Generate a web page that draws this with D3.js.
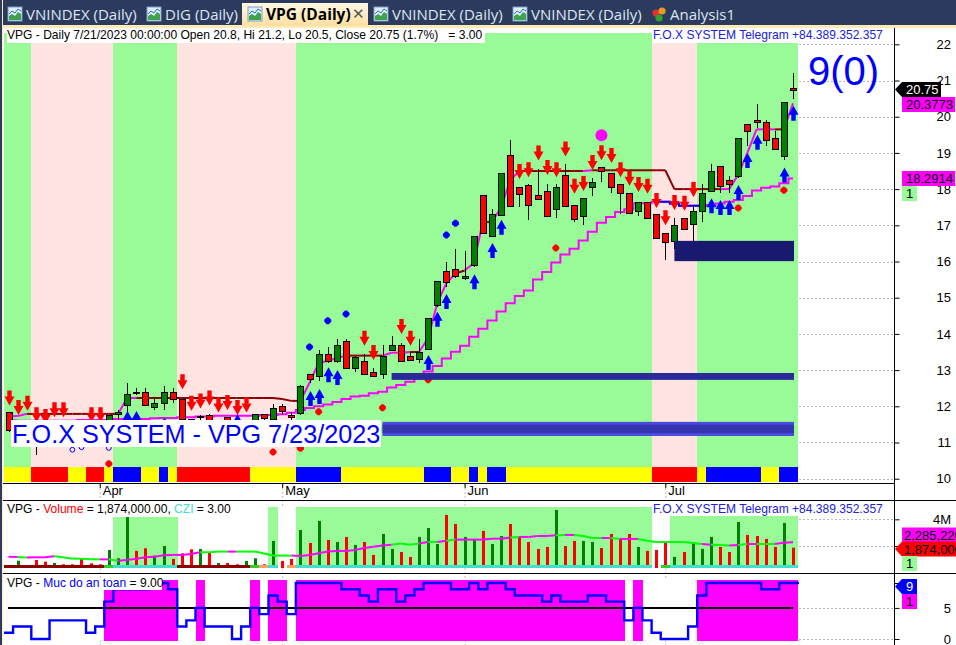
<!DOCTYPE html>
<html>
<head>
<meta charset="utf-8">
<title>VPG Daily</title>
<script src="https://cdn.jsdelivr.net/npm/d3@7"></script>
<style>
body { margin: 0; background: #fff; overflow: hidden; }
text { font-family: "Liberation Sans", Arial, sans-serif; }
.tab { font-family: "Open Sans", sans-serif; font-size: 15px; fill: #dde5f2; }
.axis text { font-size: 13px; fill: #000; }
.legend { font-size: 12.05px; fill: #000; white-space: pre; }
</style>
</head>
<body>
<svg id="chart" width="956" height="645"></svg>
<script>
//Price candles, one value per trading day (87 days ending 7/21/2023)
var opens = [11.85,11.25,11.55,11.5,11.4,11.2,11.35,11.3,11.3,11.3,
    11.3,11.3,11.8,12.05,12.4,12.4,12,12.1,12.4,12.2,
    11.65,11.7,11.75,11.4,11.7,11.5,11.4,11.5,11.8,11.65,
    12,11.75,11.8,12.9,12.85,13.45,13.25,13.8,13.05,13.25,
    12.95,12.9,13.55,13.7,13.4,13.3,13.6,14.8,15.75,15.8,
    15.55,15.9,17.85,16.7,17.3,18.95,18.05,18.1,17.85,17.95,
    17.45,18.4,17.55,17.25,18.05,18.6,18.45,18.15,17.9,17.4,
    17.65,17.3,16.8,16.55,17.2,17.05,17.4,17.95,18.65,18.25,
    18.35,19.8,19.9,19.85,19.4,18.9,20.8]
var closes = [11.35,11.55,11.4,11.2,11.2,11.35,11.25,11.2,11.15,11.15,
    11.2,11.75,11.85,12.35,12.4,12.05,12.1,12.4,12.2,11.65,
    11.3,11.72,11.4,11.55,11.4,11.45,11.5,11.8,11.7,11.95,
    11.85,11.7,12.55,12.75,13.45,13.25,13.7,13.05,13.35,12.9,
    12.85,13.4,13.7,13.25,13.3,13.5,14.45,15.45,15.45,15.6,
    15.6,16.7,16.8,17.3,18.45,17.55,17.85,17.55,17.75,17.25,
    18.05,17.55,17.15,17.75,18.2,18.5,18.05,17.9,17.35,17.65,
    17.2,16.65,16.55,17,16.9,17.4,17.9,18.5,18.1,18.15,
    19.4,19.6,19.85,19.35,19.1,20.4,20.75]
var highs = [11.85,11.6,11.6,11.6,11.5,11.45,11.45,11.4,11.4,11.4,
    11.5,11.75,11.9,12.65,12.5,12.5,12.25,12.55,12.5,12.2,
    11.65,11.75,11.8,11.6,11.7,11.6,11.6,11.8,11.8,12.05,
    12.05,11.85,12.6,12.9,13.55,13.65,13.85,13.85,13.4,13.45,
    13.05,13.7,13.95,13.75,13.5,13.85,14.45,15.45,16,16.35,
    16.3,16.7,17.85,17.45,18.45,19.35,18.05,18.15,18.55,18.15,
    18.15,18.7,17.55,17.75,18.3,18.6,18.45,18.15,17.9,17.65,
    17.65,17.3,16.8,17.2,17.2,17.55,18.15,18.7,18.65,18.35,
    19.4,19.8,20.35,19.9,19.6,20.4,21.2]
var lows = [11.3,11.2,11.3,10.65,11.1,11.1,11.15,11.1,11.1,11.1,
    11.1,11.25,11.6,11.8,12.3,12.05,11.9,11.9,12.1,11.6,
    11.2,11.4,11.3,11.3,11.3,11.4,11.35,11.4,11.6,11.6,
    11.75,11.6,11.75,12.65,12.7,13.2,13.2,13.05,12.95,12.9,
    12.8,12.75,13.55,13.25,13.25,13.2,13.6,14.75,15.3,15.55,
    15.5,15.85,16.8,16.7,17.3,17.55,17.5,17.15,17.7,17.25,
    17.2,17.55,17.1,17,17.8,18.2,17.9,17.3,17.35,17.25,
    17.2,16.65,16.05,16.35,16.9,16.5,17.1,17.95,17.9,17.9,
    18.3,19.2,19.7,19.2,19.1,18.8,20.5]

//Fast trailing line and slow stepped line
var fastLine = [11.73,11.73,11.79,11.79,11.79,11.79,11.79,11.79,11.79,11.79,
    11.79,11.79,11.79,12.23,12.23,12.23,12.23,12.23,12.23,12.23,
    12.23,12.23,12.23,12.23,12.23,12.23,12.23,12.23,12.23,12.23,
    12.2,12.15,12.15,12.65,13.2,13.25,13.33,13.4,13.4,13.4,
    13.4,13.4,13.48,13.48,13.5,13.5,13.88,14.85,15.4,15.67,
    15.75,15.95,17.09,17.09,17.5,18.25,18.5,18.5,18.5,18.5,
    18.5,18.5,18.5,18.5,18.52,18.52,18.52,18.52,18.52,18.52,
    18.52,18.52,18.52,18,18,18,18,18,18,18,
    18.4,19,19.65,19.65,19.65,19.65,20.37]
var fastRedRanges = [[2,12],[14,32],[37,41],[44,45],[49,50],[52,53],[56,63],[64,78],[84,85]]
var slowLine = [11.6,11.6,11.6,11.6,11.6,11.6,11.6,11.6,11.62,11.62,
    11.62,11.62,11.65,11.65,11.65,11.65,11.67,11.68,11.68,11.7,
    11.7,11.72,11.72,11.74,11.74,11.74,11.74,11.74,11.76,11.76,
    11.78,11.82,11.9,11.95,12,12.05,12.12,12.2,12.27,12.29,
    12.36,12.4,12.52,12.59,12.68,12.77,12.96,13.11,13.32,13.51,
    13.67,13.92,14.14,14.37,14.62,14.85,15.05,15.2,15.5,15.71,
    15.97,16.19,16.35,16.58,16.82,17.07,17.23,17.37,17.44,17.61,
    17.61,17.65,17.65,17.6,17.54,17.54,17.54,17.56,17.6,17.65,
    17.7,17.81,17.96,18.04,18.07,18.16,18.29]
var slowBlueRanges = [[0,1],[71,76]]

//Signals: [bar, price at the tip]
var redArrows = [[0,12.02],[1,11.76],[2,11.88],[3,11.56],[4,11.51],[5,11.7],[6,11.7],[9,11.56],[10,11.56],
    [19,12.47],[20,11.88],[21,11.94],[22,12.02],[23,11.83],[24,11.9],[25,11.76],[26,11.83],
    [39,13.67],[40,13.28],[43,14],[44,13.67],
    [56,18.28],[57,18.33],[58,18.79],[59,18.39],[60,18.33],[61,18.9],[62,17.87],[63,17.95],[64,18.53],
    [65,18.8],[66,18.72],[67,18.33],[68,18.09],[69,17.92],[70,17.87],[71,17.48],[72,17],[73,17.42],[74,17.4],[75,17.78]]
var blueArrows = [[13,11.87],[14,11.87],[17,11.7],[25,11.79],[33,12.42],[34,12.48],[35,13.08],[36,13],
    [46,13.42],[47,14.61],[48,15.1],[51,15.65],[53,16.51],[54,17.15],
    [77,17.75],[78,17.7],[79,17.7],[80,18.11],[81,19],[82,19.5],[85,18.6],[86,20.3]]
var blueDots = [[33,13.64],[35,14.36],[37,14.55],[48,16.73],[49,17.06]]
var hollowDots = [[7,10.8],[8,10.87],[11,10.85]]
var redDots = [[11,10.41],[29,10.74],[32,10.84],[34,11.85],[41,11.96],[46,12.73],[60,16.37],[80,17.48],[85,17.97]]
var bigDot = [65,19.49]

//Zones: [first bar, top price, bottom price]
var navyZone = [73,16.57,16.01]
var upperBlueZone = [42,12.92,12.73]
var lowerBlueZone = [41,11.57,11.18]
var lowerBlueCore = [41,11.49,11.26]

//Bottom strip of the price pane and background, as [colour key, number of bars]
var stripRuns = [["Y",3],["R",4],["Y",2],["R",2],["Y",1],["B",3],["Y",2],["B",1],["Y",1],["R",8],["Y",5],
    ["B",5],["Y",9],["B",3],["Y",2],["B",1],["Y",1],["B",2],["Y",16],["R",5],["Y",1],["B",6],["Y",2],["B",2]]
var bandRuns = [["G",3],["P",9],["G",7],["P",13],["G",39],["P",5],["G",11]]

//Volume in millions
var volumes = [0.4,0.9,0.4,0.95,0.83,0.73,0.63,0.63,1.03,0.7,
    0.63,1.7,1.08,4.18,1.63,1.83,1.28,2,1.03,1.45,
    1.75,1.78,1.53,0.73,0.73,0.63,0.88,1.08,0.63,2.38,
    0.88,1.03,3.2,2.23,3.88,2.45,2.3,2.68,2.08,2.3,
    1.33,2.9,1.78,1.55,1.18,2.68,3.35,2.15,4.33,3.65,
    2.68,2.53,3.13,2.15,2.75,3.65,2.75,2.3,1.78,1.93,
    4.7,2,2.38,2.38,2.3,1.85,2.9,2.53,2.9,1.93,
    1.63,1.7,2.23,1.18,1.55,2.3,1.78,2.68,1.93,1.55,
    3.8,2.83,2.75,2.53,1.93,3.73,1.874]
var volumeAvg = [1.2,1.18,1.13,1.15,1.15,1.23,1.15,1.05,1.05,1,
    1,1,0.9,0.95,1.05,1.15,1.2,1.3,1.33,1.33,
    1.4,1.53,1.53,1.58,1.58,1.58,1.58,1.58,1.43,1.28,
    1.28,1.28,1.25,1.33,1.45,1.58,1.63,1.63,1.7,1.85,
    1.95,2.03,2.1,2.18,2.1,2.18,2.3,2.3,2.4,2.48,
    2.48,2.48,2.48,2.55,2.55,2.63,2.68,2.68,2.75,2.75,
    2.8,2.83,2.83,2.75,2.6,2.6,2.6,2.53,2.53,2.53,
    2.4,2.3,2.3,2.3,2.3,2.23,2.15,2.1,2.08,2.03,
    2.08,2.15,2.15,2.15,2.15,2.25,2.285]
var volumeAvgColours = "mgmmmgggggmgmmmmmmmmmgggmggggggmmmmmmmmmmmgggmgmgmmmmmmgmmmmgmgggmgmmgggggggmggmgmggmm"
var cziRuns = [["D",11],["L",1],["T",7],["D",8],["L",1],["O",1],["T",1],["N",1],["O",1],["T",39],["N",1],["L",1],["T",14]]

//Safety level, 0 to 9
var safety = [1,2,2,0,0,3,3,3,3,1,
    2,6,8,8,8,8,9,9,8,2,
    3,5,2,2,2,0,2,5,4,7,
    6,4,9,9,9,9,9,8,8,7,
    6,8,8,6,7,8,9,9,9,8,
    8,9,8,9,9,8,7,7,7,6,
    7,6,6,6,7,7,6,6,3,5,
    3,1,0,0,0,2,7,9,9,9,
    9,9,9,8,8,9,9]

var priceTicks = [10,11,12,13,14,15,16,17,18,19,20,21,22]
var volumeTicks = [2,4]
var safetyTicks = [0,5,9]
var monthTicks = [[10,"Apr"],[30,"May"],[50,"Jun"],[72,"Jul"]]
var tabs = [["VNINDEX (Daily)",8],["DIG (Daily)",147],["VPG (Daily)",248],["VNINDEX (Daily)",374],["VNINDEX (Daily)",513]]

var colours = {Y:"#ffff00", R:"#ff0000", B:"#0000ff", G:"#98fb98", P:"#ffe4e1",
    D:"#8b0000", L:"#32cd32", T:"#40e0d0", O:"#ffa060"}

var svg = d3.select("#chart")

var x = d3.scaleLinear().domain([0,86]).range([8.5,793])
var step = x(1) - x(0)
var priceY = d3.scaleLinear().domain([10,22]).range([478.7,44.3])
var volumeY = d3.scaleLinear().domain([0,4]).range([572.67,519.33])
var safetyY = d3.scaleLinear().domain([0,9]).range([639,583])

//Left and right edge of a run of bars, the first edge stops at the pane border
function barLeft(i) { return Math.max(4, x(i) - step/2) }
function barRight(i) { return Math.min(799, x(i) + step/2) }

function expandRuns(runs) {
    var out = []
    runs.forEach(function(r) {
        for (var k = 0; k < r[1]; k++) out.push(r[0])
    })
    return out
}

function inRanges(ranges, i) {
    return ranges.some(function(r) { return i >= r[0] && i < r[1] })
}

function tabBar() {
    svg.append("rect").attr("width",956).attr("height",25).attr("fill","#2c3b5d")
    svg.append("rect").attr("y",25).attr("width",956).attr("height",3).attr("fill","#ffeab8")
    svg.append("rect").attr("width",2).attr("height",645).attr("fill","#2c3b5d")
    svg.append("rect").attr("x",2).attr("width",1).attr("height",645).attr("fill","#ffeab8")

    var grad = svg.append("defs").append("linearGradient").attr("id","activeTab")
        .attr("x1",0).attr("y1",0).attr("x2",0).attr("y2",1)
    grad.append("stop").attr("offset",0).attr("stop-color","#fff8e6")
    grad.append("stop").attr("offset",1).attr("stop-color","#ffdf9f")
    svg.append("rect").attr("x",242).attr("y",3).attr("width",126).attr("height",23).attr("fill","url(#activeTab)")

    tabs.forEach(function(t, i) {
        var g = svg.append("g").attr("transform","translate(" + t[1] + ",7)")
        g.append("rect").attr("width",14).attr("height",14).attr("fill","#dfeefc").attr("stroke","#7d9cc4")
        g.append("path").attr("d","M1,13V9L4,7L7,9L10,5L13,7V13Z").attr("fill","#3fa34d")
        g.append("path").attr("d","M1,7L4,4L7,6L10,2L13,4").attr("fill","none").attr("stroke","#2a6fc0")
        svg.append("text").attr("class","tab").attr("x",t[1] + 18).attr("y",20).text(t[0])
            .style("fill", i == 2 ? "#000" : null).style("font-weight", i == 2 ? "bold" : null)
            .style("font-size", i == 2 ? "15.5px" : null)
    })
    svg.append("text").attr("x",352).attr("y",19).attr("font-size",15).attr("fill","#555").text("✕")

    var colourDots = [[656,13,"#e03030"],[662,11,"#e89a20"],[659,18,"#30a030"]]
    svg.selectAll(".adot").data(colourDots).enter().append("circle")
        .attr("cx",function(d){return d[0]}).attr("cy",function(d){return d[1]}).attr("r",3.6)
        .attr("fill",function(d){return d[2]})
    svg.append("text").attr("class","tab").attr("x",670).attr("y",20).text("Analysis1")
}

//Month lines only show outside the plotted part of each pane
function verticalGrid() {
    svg.selectAll(".vgrid").data(monthTicks).enter().append("line")
        .attr("x1",function(d){return x(d[0])+.5}).attr("x2",function(d){return x(d[0])+.5})
        .attr("y1",28).attr("y2",645)
        .attr("stroke","#bbb").attr("stroke-dasharray","2,2")
    svg.append("rect").attr("x",4).attr("y",507).attr("width",795).attr("height",58).attr("fill","#fff")
    svg.append("rect").attr("x",4).attr("y",580).attr("width",795).attr("height",60.6).attr("fill","#fff")
}

function horizontalGrid(values, scale) {
    svg.append("g").selectAll("line").data(values).enter().append("line")
        .attr("x1",799).attr("x2",895)
        .attr("y1",function(d){return Math.round(scale(d))+.5}).attr("y2",function(d){return Math.round(scale(d))+.5})
        .attr("stroke","#bbb").attr("stroke-dasharray","2,2")
}

//Draw the background band / strip runs of the given pane
function drawRuns(keys, y0, y1) {
    var g = svg.append("g")
    keys.forEach(function(k, i) {
        if (k == "N") return
        g.append("rect").attr("x",barLeft(i)).attr("y",y0)
            .attr("width",barRight(i)-barLeft(i)+.3).attr("height",y1-y0)
            .attr("fill",colours[k]).attr("shape-rendering","crispEdges")
    })
}

function drawPricePane() {
    drawRuns(expandRuns(bandRuns), 33, 467)
    drawRuns(expandRuns(stripRuns), 467, 482)
    horizontalGrid(priceTicks, priceY)

    var xy = d3.line().x(function(d){return x(d[0])}).y(function(d){return priceY(d[1])})
    var stepLine = d3.line().curve(d3.curveStep).x(function(d){return x(d[0])}).y(function(d){return priceY(d[1])})

    svg.append("path").datum(slowLine.map(function(v,i){return [i,v]}))
        .attr("d",stepLine).attr("fill","none").attr("stroke","#ff00ff").attr("stroke-width",2)
    slowBlueRanges.forEach(function(r) {
        var part = slowLine.map(function(v,i){return [i,v]}).slice(r[0], r[1]+1)
        svg.append("path").datum(part).attr("d",stepLine)
            .attr("fill","none").attr("stroke","#0000ff").attr("stroke-width",2)
    })

    fastLine.slice(1).forEach(function(v, k) {
        svg.append("path").datum([[k,fastLine[k]],[k+1,v]]).attr("d",xy)
            .attr("fill","none").attr("stroke-width",2)
            .attr("stroke", inRanges(fastRedRanges,k) ? "#8b0000" : "#ff00ff")
    })

    //Candles
    var candles = svg.append("g").selectAll("g").data(opens).enter().append("g")
    candles.append("line")
        .attr("x1",function(d,i){return Math.round(x(i))+.5}).attr("x2",function(d,i){return Math.round(x(i))+.5})
        .attr("y1",function(d,i){return Math.round(priceY(highs[i]))}).attr("y2",function(d,i){return Math.round(priceY(lows[i]))})
        .attr("stroke","#000")
    candles.append("rect")
        .attr("x",function(d,i){return Math.round(x(i))-2.5})
        .attr("y",function(d,i){return Math.round(priceY(Math.max(d,closes[i])))+.5})
        .attr("width",6)
        .attr("height",function(d,i){return Math.max(1,Math.round(Math.abs(priceY(d)-priceY(closes[i]))))})
        .attr("fill",function(d,i){return closes[i] > d ? "#008000" : "#ff0000"})
        .attr("stroke","#000")

    //Signals
    svg.append("g").selectAll("path").data(redArrows).enter().append("path")
        .attr("d","M-2.2,-15H2.2V-9H5L0,0L-5,-9H-2.2Z").attr("fill","#ff0000")
        .attr("transform",function(d){return "translate(" + (Math.round(x(d[0]))+.5) + "," + priceY(d[1]) + ")"})
    svg.append("g").selectAll("path").data(blueArrows).enter().append("path")
        .attr("d","M-2.2,15H2.2V9H5L0,0L-5,9H-2.2Z").attr("fill","#0000ff")
        .attr("transform",function(d){return "translate(" + (Math.round(x(d[0]))+.5) + "," + priceY(d[1]) + ")"})

    var dot = "M-1,-3.5H1L3.5,-1V1L1,3.5H-1L-3.5,1V-1Z"
    function dots(data, colour) {
        svg.append("g").selectAll("path").data(data).enter().append("path").attr("d",dot)
            .attr("fill",colour)
            .attr("transform",function(d){return "translate(" + x(d[0]) + "," + priceY(d[1]) + ")"})
    }
    dots(blueDots,"#0000ff")
    dots(redDots,"#ff0000")
    svg.append("g").selectAll("circle").data(hollowDots).enter().append("circle").attr("r",2.4)
        .attr("cx",function(d){return x(d[0])}).attr("cy",function(d){return priceY(d[1])})
        .attr("fill","none").attr("stroke","#0000ff")
    svg.append("circle").attr("cx",x(bigDot[0])).attr("cy",priceY(bigDot[1])).attr("r",6).attr("fill","#ff00ff")

    //Zones
    function zone(z, colour) {
        svg.append("rect").attr("x",x(z[0])).attr("y",priceY(z[1]))
            .attr("width",x(86)+1-x(z[0])).attr("height",priceY(z[2])-priceY(z[1]))
            .attr("fill",colour)
    }
    zone(navyZone,"#191970")
    zone(upperBlueZone,"#2a2a9a")
    zone(lowerBlueZone,"#4a4add")
    zone(lowerBlueCore,"#3535b0")

    //Text over the chart
    svg.append("rect").attr("x",11).attr("y",420).attr("width",370).attr("height",27).attr("fill","#fff")
    svg.append("text").attr("x",12).attr("y",443).attr("font-size",25.2).attr("fill","#0000ff").text("F.O.X SYSTEM - VPG 7/23/2023")
    svg.append("text").attr("x",808).attr("y",85).attr("font-size",40).attr("fill","#0000ff").text("9(0)")

    svg.append("rect").attr("x",7).attr("y",28).attr("width",478).attr("height",15).attr("fill","#fff")
    svg.append("text").attr("class","legend").attr("x",7).attr("y",39)
        .text("VPG - Daily 7/21/2023 00:00:00 Open 20.8, Hi 21.2, Lo 20.5, Close 20.75 (1.7%)   = 3.00")
    telegramLabel(28,39)
}

function telegramLabel(y0, base) {
    svg.append("rect").attr("x",652).attr("y",y0).attr("width",235).attr("height",15).attr("fill","#fff")
    svg.append("text").attr("class","legend").attr("x",653).attr("y",base).style("fill","#2020e0")
        .text("F.O.X SYSTEM Telegram +84.389.352.357")
}

function drawVolumePane() {
    var band = expandRuns(cziRuns).map(function(k){return k == "T" ? "G" : "N"})
    drawRuns(band, 507, 565)

    svg.append("g").selectAll("rect").data(volumes).enter().append("rect")
        .attr("x",function(d,i){return Math.round(x(i))-1})
        .attr("y",function(d){return volumeY(d)})
        .attr("width",3)
        .attr("height",function(d){return 568-volumeY(d)})
        .attr("fill",function(d,i){return closes[i] > opens[i] ? "#008000" : "#ff0000"})

    var xy = d3.line().x(function(d){return x(d[0])}).y(function(d){return volumeY(d[1])})
    volumeAvg.slice(1).forEach(function(v, k) {
        svg.append("path").datum([[k,volumeAvg[k]],[k+1,v]]).attr("d",xy)
            .attr("fill","none").attr("stroke-width",2)
            .attr("stroke", volumeAvgColours[k] == "m" ? "#ff00ff" : "#00ff00")
    })

    drawRuns(expandRuns(cziRuns), 565, 568)
    horizontalGrid(volumeTicks, volumeY)

    svg.append("rect").attr("x",4).attr("y",501).attr("width",228).attr("height",16).attr("fill","#fff")
    var t = svg.append("text").attr("class","legend").attr("x",7).attr("y",513)
    t.append("tspan").text("VPG - ")
    t.append("tspan").style("fill","#ff0000").text("Volume")
    t.append("tspan").text(" = 1,874,000.00, ")
    t.append("tspan").style("fill","#40e0d0").text("CZI")
    t.append("tspan").text(" = 3.00")
    telegramLabel(501,513)
}

function drawSafetyPane() {
    var keys = safety.map(function(v){return v >= 5 ? "M" : "N"})
    colours.M = "#ff00ff"
    drawRuns(keys, 580, 640.6)
    horizontalGrid([0,5], safetyY)

    svg.append("line").attr("x1",8).attr("x2",793).attr("y1",safetyY(5)).attr("y2",safetyY(5))
        .attr("stroke","#000").attr("stroke-width",2)

    var points = safety.map(function(v,i){return [x(i),safetyY(v)]})
    points.unshift([4,safetyY(safety[0])])
    points.push([799,safetyY(safety[86])])
    svg.append("path").datum(points).attr("d",d3.line().curve(d3.curveStep))
        .attr("fill","none").attr("stroke","#0000ff").attr("stroke-width",2.4)

    svg.append("rect").attr("x",4).attr("y",578).attr("width",158).attr("height",12).attr("fill","#fff")
    var t = svg.append("text").attr("class","legend").attr("x",7).attr("y",587)
    t.append("tspan").text("VPG - ")
    t.append("tspan").style("fill","#0000ff").text("Muc do an toan")
    t.append("tspan").text(" = 9.00")
}

function drawAxes() {
    function rightAxis(scale, values, format) {
        var g = svg.append("g").attr("class","axis").attr("transform","translate(894.5,0)")
            .call(d3.axisRight(scale).tickValues(values).tickSize(5).tickFormat(format))
        g.select(".domain").remove()
        g.selectAll("text").attr("x",56.5).attr("text-anchor","end")
        return g
    }
    rightAxis(priceY, priceTicks, d3.format("d"))
    rightAxis(volumeY, volumeTicks, function(d){return d == 4 ? "4M" : ""})
    rightAxis(safetyY, safetyTicks, function(d){return d == 9 ? "" : d})

    svg.append("line").attr("x1",894.5).attr("x2",894.5).attr("y1",28).attr("y2",645).attr("stroke","#000")
    svg.append("line").attr("x1",3).attr("x2",895).attr("y1",483.5).attr("y2",483.5).attr("stroke","#000")
    svg.selectAll(".divider").data([500.5,573.5]).enter().append("line")
        .attr("x1",3).attr("x2",956).attr("y1",function(d){return d}).attr("y2",function(d){return d})
        .attr("stroke","#000")

    var months = svg.append("g").attr("class","axis").selectAll("g").data(monthTicks).enter().append("g")
    months.append("line").attr("x1",function(d){return x(d[0])+.5}).attr("x2",function(d){return x(d[0])+.5})
        .attr("y1",484).attr("y2",488).attr("stroke","#000")
    months.append("text").attr("x",function(d){return x(d[0])+3}).attr("y",495).text(function(d){return d[1]})
}

//Value tags on the right axis
function tag(y, w, colour, textColour, label, pointed) {
    var path = pointed
        ? "M895," + (y+7.5) + "L902," + y + "H" + (895+w) + "V" + (y+15) + "H902Z"
        : "M902," + y + "H" + (902+w) + "V" + (y+15) + "H902Z"
    svg.append("path").attr("d",path).attr("fill",colour)
    svg.append("text").attr("x",w > 54 ? 904 : 906).attr("y",y+12).attr("font-size",13)
        .attr("fill",textColour).text(label)
}

function drawTags() {
    tag(82,46,"#000","#fff","20.75",true)
    tag(97,53,"#ff00ff","#000","20.3773",false)
    tag(171,53,"#ff00ff","#000","18.2914",false)
    tag(186,15,"#98fb98","#000","1",false)

    tag(527.5,55,"#ff00ff","#000","2,285,220",false)
    tag(541.5,61,"#ff0000","#000","1,874,000",true)
    tag(556,15,"#98fb98","#000","1",false)

    tag(579,22,"#0000ff","#fff","9",true)
    tag(594,15,"#ff00ff","#000","1",false)
}

tabBar()
verticalGrid()
drawPricePane()
drawVolumePane()
drawSafetyPane()
drawAxes()
drawTags()
</script>
</body>
</html>
